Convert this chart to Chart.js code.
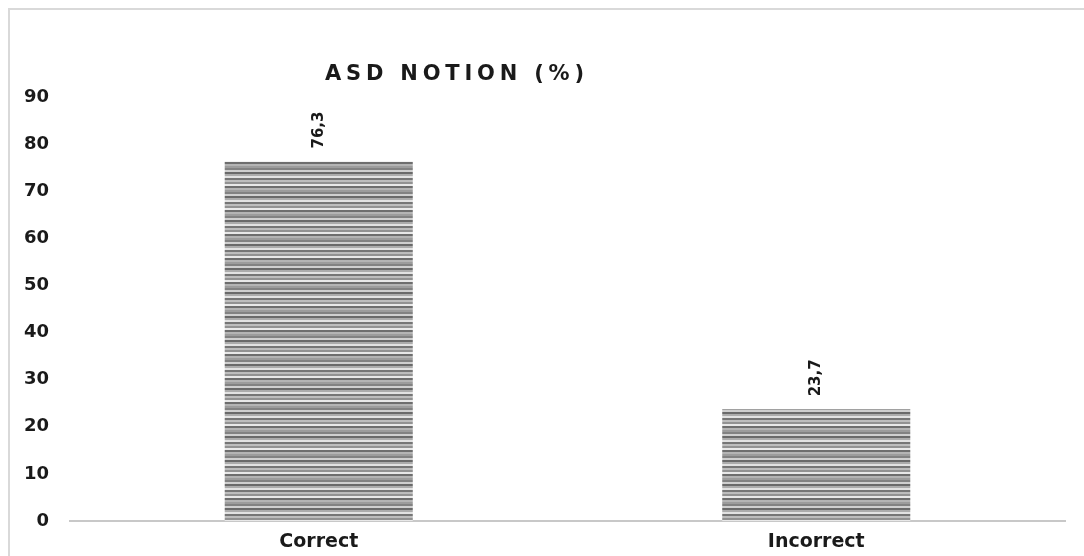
<!DOCTYPE html>
<html>
<head>
<meta charset="utf-8">
<script src="https://cdn.jsdelivr.net/npm/chart.js@4.4.0/dist/chart.umd.min.js"></script>
<style>
    html, body { margin: 0; padding: 0; background: #fff; overflow: hidden; }
    #wrap { position: relative; width: 1084px; height: 556px; }
    #frame { position: absolute; left: 8px; top: 8px; width: 1200px; height: 700px; border: 2px solid #d9d9d9; box-sizing: border-box; }
    canvas { position: absolute; left: 0; top: 0; }
</style>
</head>
<body>
<div id="wrap">
    <div id="frame"></div>
    <canvas id="asdChart" width="1084" height="556"></canvas>
</div>
<script>
const categories = ["Correct", "Incorrect"];
const percentValues = [76.3, 23.7];
const valueLabels = ["76,3", "23,7"];
const chartTitle = "ASD NOTION (%)";
const yTicks = [0, 10, 20, 30, 40, 50, 60, 70, 80, 90];

const FONT = "'DejaVu Sans', sans-serif";

// striped grey fill like the original
function makeStripes() {
    const shades = ["#828282", "#cfcfcf", "#6a6a6a", "#acacac", "#e2e2e2", "#767676", "#bdbdbd", "#929292", "#e8e8e8", "#6e6e6e", "#b4b4b4", "#9c9c9c"];
    const c = document.createElement("canvas");
    c.width = 4;
    c.height = shades.length * 2;
    const g = c.getContext("2d");
    shades.forEach((s, i) => {
        g.fillStyle = s;
        g.fillRect(0, i * 2, 4, 2);
    });
    return g.createPattern(c, "repeat");
}

const titlePlugin = {
    id: "titleText",
    afterDraw(chart) {
        const ctx = chart.ctx;
        ctx.save();
        ctx.font = "bold 21px " + FONT;
        ctx.letterSpacing = "4.8px";
        ctx.fillStyle = "#1a1a1a";
        ctx.textAlign = "left";
        ctx.textBaseline = "alphabetic";
        ctx.fillText(chartTitle, 325, 80);
        ctx.restore();
    }
};

const barLabels = {
    id: "barLabels",
    afterDatasetsDraw(chart) {
        const ctx = chart.ctx;
        const meta = chart.getDatasetMeta(0);
        ctx.save();
        ctx.font = "bold 15px " + FONT;
        ctx.fillStyle = "#1a1a1a";
        meta.data.forEach((bar, i) => {
            ctx.save();
            ctx.translate(bar.x, bar.y - 13);
            ctx.rotate(-Math.PI / 2);
            ctx.textAlign = "left";
            ctx.textBaseline = "middle";
            ctx.fillText(valueLabels[i], 0, 0);
            ctx.restore();
        });
        ctx.restore();
    }
};

const ctx = document.getElementById("asdChart").getContext("2d");
new Chart(ctx, {
    type: "bar",
    data: {
        labels: categories,
        datasets: [{
            data: percentValues,
            backgroundColor: makeStripes(),
            borderWidth: 0,
            categoryPercentage: 1,
            barPercentage: 0.378
        }]
    },
    options: {
        responsive: false,
        animation: false,
        layout: { padding: { left: 0, right: 19, top: 97, bottom: 0 } },
        plugins: {
            legend: { display: false },
            tooltip: { enabled: false },
            title: { display: false }
        },
        scales: {
            x: {
                grid: { display: false, drawTicks: false },
                border: { display: true, color: "#c8c8c8", width: 2 },
                ticks: {
                    padding: 10,
                    color: "#1a1a1a",
                    font: { family: FONT, size: 19, weight: "bold" }
                },
                afterFit(scale) { scale.height = 35; }
            },
            y: {
                min: 0,
                max: 90,
                grid: { display: false, drawTicks: false },
                border: { display: false },
                afterBuildTicks(scale) {
                    scale.ticks = yTicks.map(v => ({ value: v }));
                },
                ticks: {
                    padding: 21,
                    color: "#1a1a1a",
                    font: { family: FONT, size: 18, weight: "bold" }
                },
                afterFit(scale) { scale.width = 70; }
            }
        }
    },
    plugins: [titlePlugin, barLabels]
});
</script>
</body>
</html>
